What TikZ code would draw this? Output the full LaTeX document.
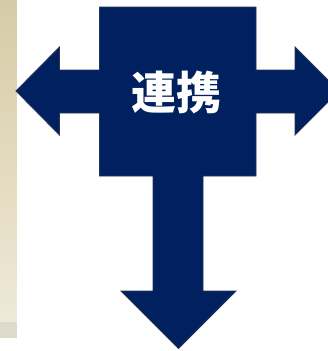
\documentclass[tikz,border=0pt]{standalone}
\usepackage{fontspec}
\newfontfamily\cjk{Noto Sans CJK JP}
\definecolor{navy}{RGB}{0,32,96}
\definecolor{navyline}{RGB}{38,52,86}
\definecolor{beigeA}{RGB}{214,203,166}
\definecolor{beigeB}{RGB}{230,222,196}
\definecolor{beigeC}{RGB}{238,233,218}
\definecolor{beigeD}{RGB}{222,219,202}
\tikzset{
  arrowshape/.style={fill=navy, draw=navyline, line width=0.9pt, line join=miter},
  label/.style={text=white, font=\cjk\bfseries\fontsize{45}{45}\selectfont, inner sep=0pt}
}
\begin{document}
\begin{tikzpicture}[x=1pt,y=-1pt]
\useasboundingbox (0,0) rectangle (328,351);
\clip (0,0) rectangle (328,351);
\fill[white] (0,0) rectangle (328,351);
% textured strip on the left
\shade[top color=beigeA, bottom color=beigeB] (0,0) rectangle (16.7,200);
\shade[top color=beigeB, bottom color=beigeC] (0,200) rectangle (16.7,322);
\fill[beigeD] (0,322) rectangle (16.7,337.5);
% combined arrow shape
\draw[arrowshape]
  (16,91) -- (59.5,47) -- (59.5,70) -- (99.5,70) -- (99.5,7) -- (256,7) -- (256,70)
  -- (295,70) -- (295,47) -- (339,91) -- (295,135) -- (295,113) -- (256,113)
  -- (256,176) -- (203,176) -- (203,291) -- (236,291) -- (178.5,348.5) -- (121,291)
  -- (153,291) -- (153,176) -- (99.5,176) -- (99.5,113) -- (59.5,113) -- (59.5,135) -- cycle;
\node[label] (t) at (176,92.5) {連携};
\end{tikzpicture}
\end{document}
